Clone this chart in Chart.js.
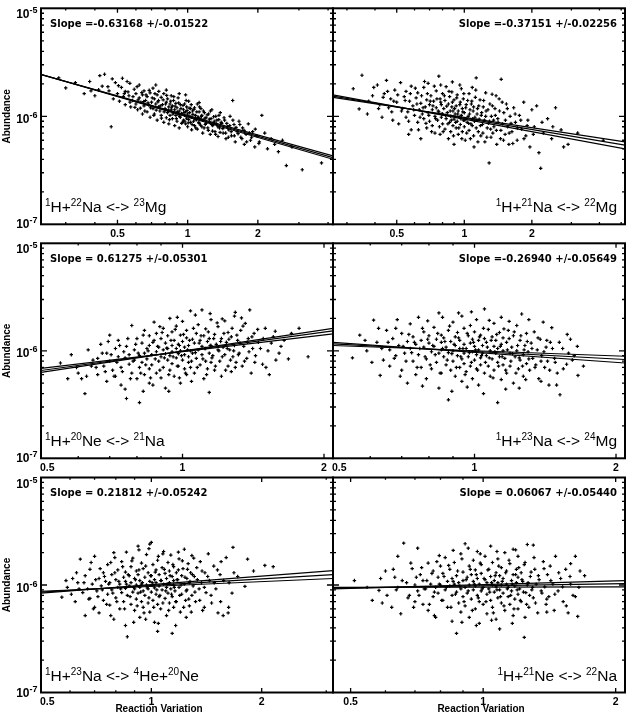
<!DOCTYPE html>
<html>
<head>
<meta charset="utf-8">
<script src="https://cdn.jsdelivr.net/npm/chart.js@4.4.0/dist/chart.umd.min.js"></script>
<style>
  body { margin: 0; background: #fff; }
  #wrap { position: relative; width: 636px; height: 714px; }
  #wrap canvas { position: absolute; left: 0; top: 0; }
</style>
</head>
<body>
<div id="wrap"></div>
<script>
// abundance values below are written in units of 1e-6
const UNIT = 1e-6;

const yRange = [1e-7, 1e-5];
const yMajorTicks = [1e-7, 1e-6, 1e-5];
const yTickLabels = ['10^{-7}', '10^{-6}', '10^{-5}'];
const yMinorTicks = [2e-7, 3e-7, 4e-7, 5e-7, 6e-7, 7e-7, 8e-7, 9e-7,
                     2e-6, 3e-6, 4e-6, 5e-6, 6e-6, 7e-6, 8e-6, 9e-6];
const xMajorTicks = [0.5, 1, 2];
const xTickLabels = ['0.5', '1', '2'];
const xMinorTicks = [0.2, 0.3, 0.4, 0.6, 0.7, 0.8, 0.9, 3, 4, 5];

const reactions = [
  '^{1}H+^{22}Na <-> ^{23}Mg',
  '^{1}H+^{21}Na <-> ^{22}Mg',
  '^{1}H+^{20}Ne <-> ^{21}Na',
  '^{1}H+^{23}Na <-> ^{24}Mg',
  '^{1}H+^{23}Na <-> ^{4}He+^{20}Ne',
  '^{1}H+^{21}Ne <-> ^{22}Na'
];
const slopeTexts = [
  'Slope =-0.63168 +/-0.01522',
  'Slope =-0.37151 +/-0.02256',
  'Slope = 0.61275 +/-0.05301',
  'Slope =-0.26940 +/-0.05649',
  'Slope = 0.21812 +/-0.05242',
  'Slope = 0.06067 +/-0.05440'
];
const xRanges = [[0.235, 4.2], [0.26, 5.2], [0.5, 2.09], [0.5, 2.09], [0.5, 3.13], [0.456, 2.1]];

// fit line + two error lines: abundance at the left and right ends of the x range
const fitNaMg23 = [[2.44, 0.415], [2.43, 0.43], [2.45, 0.40]];
const fitNaMg22 = [[1.54, 0.54], [1.50, 0.58], [1.58, 0.50]];
const fitNeNa21 = [[0.656, 1.53], [0.63, 1.62], [0.685, 1.44]];
const fitNaMg24 = [[1.16, 0.83], [1.12, 0.89], [1.20, 0.77]];
const fitNaNe20 = [[0.86, 1.25], [0.84, 1.36], [0.875, 1.15]];
const fitNeNa22 = [[0.937, 1.03], [0.92, 1.10], [0.95, 0.96]];

// Monte Carlo runs: [reaction variation, abundance]
const ptsNaMg23 = [
  [0.28,2.27],[0.30,1.83],[0.33,2.05],
  [0.36,1.62],[0.38,2.10],[0.40,1.55],[0.42,2.38],[0.43,1.90],[0.44,2.45],
  [0.46,1.72],[0.47,0.80],[0.48,1.45],[0.49,2.05],[0.50,1.62],[0.51,1.38],[0.52,1.85],[0.53,1.52],[0.54,1.28],[0.54,1.70],[0.55,2.10],
  [0.56,1.55],[0.57,1.22],[0.58,1.40],[0.59,1.78],[0.60,1.30],[0.60,1.62],[0.61,1.15],[0.62,1.48],[0.62,1.95],[0.63,1.35],[0.64,1.05],[0.64,1.58],[0.65,1.25],[0.65,1.72],
  [0.66,1.40],[0.67,1.10],[0.67,1.52],[0.68,1.28],[0.69,1.65],[0.69,0.98],[0.70,1.35],[0.71,1.18],[0.71,1.82],[0.72,1.45],[0.72,1.05],[0.73,1.30],[0.74,1.58],[0.74,0.92],[0.75,1.22],[0.75,1.40],
  [0.76,1.12],[0.77,1.50],[0.77,1.02],[0.78,1.28],[0.79,0.88],[0.79,1.62],[0.80,1.18],[0.81,1.35],[0.81,0.97],[0.82,1.08],[0.82,1.45],[0.83,1.22],[0.83,0.85],[0.84,1.30],[0.84,1.02],[0.85,1.55],[0.85,1.15],
  [0.86,0.95],[0.86,1.25],[0.87,1.08],[0.87,1.40],[0.88,0.82],[0.88,1.15],[0.89,1.02],[0.89,1.32],[0.90,0.90],[0.90,1.20],[0.91,1.05],[0.91,1.48],[0.92,0.78],[0.92,1.12],[0.93,0.98],[0.93,1.28],[0.94,1.06],[0.95,0.88],
  [0.96,1.15],[0.96,0.92],[0.97,1.30],[0.97,1.02],[0.98,0.85],[0.98,1.10],[0.99,0.96],[0.99,1.22],[1.00,1.05],[1.00,0.80],[1.01,1.38],[1.01,0.93],[1.02,1.08],[1.03,0.88],[1.03,1.18],[1.04,0.98],[1.04,0.75],[1.05,1.12],
  [1.06,0.90],[1.07,1.20],[1.07,0.82],[1.08,1.02],[1.09,0.93],[1.10,1.30],[1.10,0.76],[1.11,0.98],[1.12,1.10],[1.12,0.86],[1.13,0.95],[1.14,1.18],[1.15,0.80],[1.15,1.02],[1.16,0.70],[1.17,0.92],[1.18,1.08],[1.19,0.84],[1.20,0.97],
  [1.22,0.78],[1.23,1.05],[1.24,0.88],[1.25,0.68],[1.26,0.95],[1.27,1.15],[1.28,0.82],[1.30,0.90],[1.31,0.72],[1.32,1.00],[1.33,0.85],[1.35,0.65],[1.36,0.93],[1.37,0.78],[1.38,1.08],[1.40,0.86],
  [1.42,0.70],[1.44,0.92],[1.46,0.62],[1.48,0.80],[1.50,0.75],[1.52,1.00],[1.54,0.66],[1.56,1.40],[1.58,0.84],[1.60,0.58],[1.63,0.72],[1.66,0.90],[1.69,0.64],
  [1.72,0.78],[1.75,0.55],[1.78,0.68],[1.82,0.85],[1.86,0.60],[1.90,0.72],[1.94,0.52],[1.98,0.66],[2.03,0.58],[2.08,1.02],
  [2.14,0.70],[2.20,0.50],[2.28,0.62],[2.36,0.55],[2.45,0.47],[2.55,0.60],
  [2.65,0.35],[2.80,0.52],[3.10,0.32],[3.75,0.37],
  [0.555,1.68],[0.566,1.35],[0.583,1.52],[0.594,1.21],[0.607,1.88],[0.613,1.42],[0.627,1.19],[0.636,1.66],[0.648,1.37],[0.655,1.12],
  [0.663,1.58],[0.676,1.33],[0.684,1.74],[0.693,1.20],[0.705,1.48],[0.716,1.02],[0.724,1.62],[0.733,1.14],[0.745,1.36],[0.752,1.70],
  [0.763,1.25],[0.772,0.96],[0.785,1.42],[0.793,1.10],[0.804,1.30],[0.813,1.56],[0.826,1.14],[0.835,0.93],[0.846,1.38],[0.853,1.20],
  [0.864,1.05],[0.872,1.52],[0.883,1.24],[0.894,0.95],[0.903,1.10],[0.915,1.33],[0.924,1.00],[0.936,1.18],[0.943,0.86],[0.955,1.26],
  [0.964,1.08],[0.973,0.90],[0.985,1.40],[0.994,1.13],[1.006,0.87],[1.015,1.19],[1.024,0.99],[1.036,1.28],[1.045,0.84],[1.053,1.04],
  [1.064,1.16],[1.075,0.94],[1.083,0.78],[1.094,1.10],[1.105,0.98],[1.116,0.88],[1.124,1.22],[1.135,0.83],[1.146,1.00],[1.157,0.92],
  [1.168,1.12],[1.176,0.78],[1.187,0.96],[1.198,0.86],[1.213,1.03],[1.226,0.74],[1.238,0.94],[1.252,1.12],[1.265,0.84],[1.278,0.73],
  [1.292,0.99],[1.306,0.86],[1.318,0.68],[1.334,0.92],[1.347,0.80],[1.362,1.02],[1.377,0.71],[1.393,0.88],[1.415,0.77],[1.432,0.97],
  [1.455,0.70],[1.472,0.86],[1.494,0.64],[1.515,0.82],[1.537,0.72],[1.563,0.92],[1.585,0.66],[1.612,0.79],[1.645,0.69],[1.674,0.84],
  [1.708,0.62],[1.745,0.74],[1.79,0.58],[1.84,0.70],[1.88,0.64],[1.95,0.76],[2.02,0.56],[0.455,1.88],[0.475,2.22],[0.505,1.92],
  [0.525,2.25],[0.535,1.62],[0.565,2.02],[0.385,1.72],[0.415,1.76],[0.92,1.62],[0.98,1.58],[1.12,1.34],[0.73,1.95],[0.81,1.75]
];
const ptsNaMg22 = [
  [0.32,1.80],[0.34,1.17],[0.35,2.40],[0.37,1.05],[0.39,1.55],
  [0.41,1.95],[0.42,1.28],[0.43,0.98],[0.44,1.62],[0.45,2.15],[0.46,1.20],[0.47,1.45],[0.48,0.92],[0.49,1.75],
  [0.50,1.35],[0.51,0.85],[0.52,2.05],[0.53,1.18],[0.54,1.52],[0.55,0.98],[0.55,1.70],[0.56,1.10],[0.57,1.38],[0.58,0.75],[0.58,1.90],[0.59,1.25],[0.60,1.02],
  [0.61,1.48],[0.62,0.88],[0.62,1.65],[0.63,1.15],[0.64,1.32],[0.64,0.62],[0.65,1.05],[0.66,1.85],[0.66,0.95],[0.67,1.22],[0.68,0.78],[0.68,1.42],[0.69,1.08],[0.69,2.02],[0.70,0.90],[0.70,1.28],
  [0.71,1.55],[0.72,0.82],[0.72,1.15],[0.73,1.38],[0.74,0.70],[0.74,1.00],[0.75,1.72],[0.75,1.20],[0.76,0.92],[0.77,2.35],[0.77,1.10],[0.78,0.68],[0.78,1.45],[0.79,0.98],[0.79,1.28],[0.80,0.85],[0.80,1.62],[0.80,1.05],
  [0.81,1.18],[0.82,0.76],[0.82,1.40],[0.83,0.95],[0.83,1.88],[0.84,1.08],[0.85,0.62],[0.85,1.30],[0.86,0.88],[0.86,1.52],[0.87,1.00],[0.87,0.72],[0.88,1.22],[0.88,1.68],[0.89,0.82],[0.89,1.12],[0.90,0.94],[0.90,1.42],[0.90,0.55],
  [0.91,1.05],[0.92,0.78],[0.92,1.25],[0.93,0.90],[0.93,1.58],[0.94,0.68],[0.94,1.12],[0.95,0.98],[0.96,1.35],[0.96,0.84],[0.97,1.80],[0.97,1.02],[0.98,0.72],[0.98,1.18],[0.99,0.92],[0.99,1.45],[1.00,0.80],[1.00,1.08],
  [1.01,0.60],[1.02,1.28],[1.03,0.88],[1.04,1.00],[1.05,1.62],[1.05,0.74],[1.06,1.15],[1.07,0.85],[1.08,1.38],[1.09,0.95],[1.10,0.66],[1.10,1.22],[1.11,0.90],[1.12,1.50],[1.13,2.27],[1.13,0.78],[1.14,1.05],[1.15,0.58],
  [1.16,1.25],[1.18,0.82],[1.19,1.02],[1.21,0.70],[1.22,1.40],[1.23,0.92],[1.25,1.12],[1.26,0.64],[1.28,0.86],[1.29,0.37],[1.30,1.30],[1.31,0.76],[1.32,1.00],[1.33,1.60],[1.34,0.70],[1.35,0.92],
  [1.37,1.18],[1.39,0.74],[1.41,0.95],[1.43,1.45],[1.45,0.62],[1.46,2.20],[1.48,0.85],[1.50,1.08],[1.52,0.68],[1.54,1.30],[1.56,0.80],[1.58,0.55],[1.60,1.00],
  [1.63,0.72],[1.66,1.20],[1.69,0.88],[1.72,0.60],[1.76,1.02],[1.80,0.76],[1.84,1.35],[1.88,0.66],[1.92,0.92],[1.96,0.52],[2.00,1.15],
  [2.05,0.80],[2.10,1.25],[2.15,0.46],[2.19,0.33],[2.25,0.70],[2.35,0.95],[2.45,0.62],[2.55,1.20],
  [2.70,0.75],[2.77,0.52],[2.90,0.55],[3.20,0.70],[4.16,0.60],
  [0.505,1.58],[0.525,1.12],[0.545,1.40],[0.565,0.90],[0.575,1.62],[0.595,1.15],[0.605,1.82],[0.615,1.30],[0.635,0.98],[0.645,1.55],
  [0.655,1.20],[0.675,0.86],[0.685,1.62],[0.695,1.02],[0.705,1.38],[0.715,0.72],[0.725,1.25],[0.735,1.90],[0.745,0.95],[0.755,1.45],
  [0.765,1.12],[0.775,0.80],[0.785,1.35],[0.795,1.05],[0.805,0.72],[0.815,1.55],[0.825,1.02],[0.835,1.24],[0.845,0.85],[0.855,1.70],
  [0.865,1.12],[0.875,0.92],[0.885,1.35],[0.895,0.66],[0.905,1.18],[0.915,0.88],[0.925,1.48],[0.935,1.05],[0.945,0.78],[0.955,1.28],
  [0.965,0.95],[0.975,0.62],[0.985,1.10],[0.995,1.62],[1.005,0.92],[1.015,1.20],[1.025,0.70],[1.035,1.40],[1.045,0.86],[1.055,1.05],
  [1.065,0.62],[1.075,1.30],[1.085,0.82],[1.095,1.12],[1.105,0.52],[1.115,0.98],[1.125,1.75],[1.135,0.92],[1.145,1.18],[1.155,0.72],
  [1.165,0.94],[1.175,1.42],[1.185,0.66],[1.195,1.08],[1.205,0.84],[1.215,1.22],[1.235,0.58],[1.245,1.00],[1.265,0.78],[1.275,1.15],
  [1.295,0.90],[1.315,0.64],[1.335,1.25],[1.355,0.80],[1.375,1.02],[1.395,0.55],[1.415,0.88],[1.435,1.12],[1.455,0.74],[1.475,1.35],
  [1.495,0.60],[1.525,0.92],[1.555,1.18],[1.585,0.70],[1.615,0.86],[1.645,0.56],[1.685,1.05],[1.725,0.78],[1.785,0.92],[1.845,0.62],
  [0.455,1.70],[0.475,1.10],[0.485,1.38],[0.435,1.50],[0.415,1.18],[0.395,1.85],[0.375,1.38],[0.665,2.10],[0.785,1.95],[0.885,2.08],
  [0.955,1.95],[1.085,1.85],[1.245,1.65],[1.385,1.55],[1.905,0.82],[2.03,0.68],[2.22,0.88],[2.48,0.80],[0.625,0.75],[0.565,0.68]
];
const ptsNeNa21 = [
  [0.55,0.77],[0.57,0.55],[0.58,0.92],[0.60,0.62],[0.61,0.55],[0.62,0.40],[0.63,1.02],[0.64,0.72],
  [0.66,0.85],[0.66,0.60],[0.67,1.15],[0.68,0.72],[0.69,0.95],[0.69,0.52],[0.70,1.40],[0.70,0.80],[0.71,0.66],[0.72,1.05],[0.72,0.58],[0.73,0.88],[0.73,1.25],[0.74,0.70],[0.74,0.48],[0.75,0.98],
  [0.76,0.36],[0.76,1.10],[0.77,0.75],[0.77,0.92],[0.78,1.72],[0.78,0.62],[0.79,1.02],[0.79,0.82],[0.80,0.55],[0.80,1.30],[0.81,0.33],[0.81,0.90],[0.81,0.70],[0.82,1.18],[0.82,0.78],[0.83,1.55],[0.83,0.95],[0.83,0.60],[0.84,1.05],[0.84,0.84],[0.85,1.38],[0.85,0.68],[0.85,0.50],[0.85,1.12],
  [0.86,0.92],[0.86,0.74],[0.87,1.25],[0.87,1.85],[0.88,0.62],[0.88,0.98],[0.88,1.45],[0.89,0.80],[0.89,1.08],[0.90,0.56],[0.90,1.30],[0.90,0.88],[0.91,1.02],[0.91,0.70],[0.91,1.62],[0.92,0.94],[0.92,0.45],[0.92,1.18],[0.93,0.82],[0.93,1.38],[0.93,1.05],[0.94,0.66],[0.94,0.90],[0.94,2.00],[0.95,1.12],[0.95,0.76],[0.95,1.50],[0.95,0.98],
  [0.96,0.58],[0.96,1.25],[0.97,0.86],[0.97,1.05],[0.97,1.70],[0.98,0.72],[0.98,1.15],[0.98,0.94],[0.99,1.40],[0.99,0.50],[0.99,1.00],[1.00,0.82],[1.00,1.22],[1.00,1.88],[1.01,0.68],[1.01,1.08],[1.01,0.92],[1.02,1.32],[1.02,0.60],[1.02,1.55],[1.03,0.88],[1.03,1.12],[1.03,0.78],[1.04,2.35],[1.04,1.00],[1.04,0.70],[1.05,1.28],[1.05,0.95],
  [1.06,0.62],[1.06,1.18],[1.07,1.45],[1.07,0.85],[1.08,1.02],[1.08,1.75],[1.09,0.74],[1.09,1.25],[1.10,2.40],[1.10,0.92],[1.10,1.10],[1.11,0.55],[1.11,1.38],[1.12,0.80],[1.12,1.05],[1.12,1.60],[1.13,0.68],[1.13,1.22],[1.14,0.41],[1.14,0.95],[1.14,1.30],[1.15,1.12],[1.15,0.78],[1.15,1.95],
  [1.16,0.90],[1.17,1.42],[1.17,0.66],[1.18,1.15],[1.19,1.02],[1.19,1.68],[1.20,0.80],[1.21,1.30],[1.21,0.58],[1.22,1.08],[1.23,1.90],[1.23,0.92],[1.24,1.20],[1.25,0.72],[1.25,1.48],[1.26,1.02],[1.27,0.64],[1.27,1.35],[1.28,0.88],[1.29,1.12],[1.29,2.10],[1.30,0.78],
  [1.31,1.25],[1.32,0.95],[1.33,1.55],[1.34,0.72],[1.35,1.10],[1.36,1.80],[1.37,0.85],[1.38,1.30],[1.39,2.40],[1.40,0.62],[1.41,1.05],[1.42,1.45],[1.43,0.90],[1.45,1.20],
  [1.48,0.75],[1.50,1.62],[1.52,1.00],[1.53,0.60],[1.56,1.35],[1.58,0.82],[1.62,1.10],[1.68,0.84],
  [0.705,0.92],[0.715,0.58],[0.725,0.78],[0.735,1.12],[0.745,0.64],[0.755,0.86],[0.765,1.30],[0.775,0.55],[0.785,0.80],[0.795,1.15],
  [0.805,0.95],[0.815,0.62],[0.825,1.40],[0.835,0.74],[0.845,1.00],[0.855,0.56],[0.865,1.20],[0.875,0.84],[0.885,1.10],[0.895,0.66],
  [0.905,1.48],[0.915,0.86],[0.925,1.06],[0.935,0.60],[0.945,1.25],[0.955,0.88],[0.965,1.58],[0.975,0.72],[0.985,1.12],[0.995,0.90],
  [1.005,1.42],[1.015,0.62],[1.025,1.02],[1.035,1.25],[1.045,0.80],[1.055,1.62],[1.065,0.96],[1.075,0.70],[1.085,1.18],[1.095,1.38],
  [1.105,0.84],[1.115,1.05],[1.125,0.60],[1.135,1.50],[1.145,1.12],[1.155,0.86],[1.165,1.30],[1.175,0.72],[1.185,1.82],[1.195,1.00],
  [1.205,1.22],[1.215,0.88],[1.225,1.45],[1.235,0.66],[1.245,1.05],[1.255,1.28],[1.265,0.82],[1.275,1.62],[1.285,1.00],[1.295,0.70],
  [1.305,1.40],[1.315,0.92],[1.325,1.18],[1.345,1.70],[1.355,0.80],[1.375,1.20],[1.385,0.98],[1.405,1.35],[1.425,0.78],[1.445,1.58],
  [1.465,1.05],[1.485,1.30],[1.505,0.70],[1.545,1.18],[1.575,1.52],[1.605,0.95],[1.645,1.25],[1.705,1.45],[1.77,1.62],[1.85,0.88],
  [0.655,0.70],[0.675,0.95],[0.685,0.64],[0.695,1.22],[0.625,0.58],[0.645,0.82],[0.595,0.70],[0.865,0.48],[0.935,0.42],[0.985,0.56],
  [1.045,0.52],[0.895,1.68],[0.975,2.05],[1.065,2.15],[1.145,2.22],[1.215,1.98],[1.295,2.28],[1.335,2.02],[0.825,0.42],[0.755,0.44]
];
const ptsNaMg24 = [
  [0.55,0.86],[0.57,1.40],[0.59,1.00],[0.61,1.93],[0.62,1.20],[0.63,0.59],[0.64,0.82],[0.65,1.55],
  [0.66,1.02],[0.66,0.72],[0.67,1.30],[0.68,0.90],[0.68,1.62],[0.69,1.12],[0.70,0.66],[0.70,1.45],[0.71,0.95],[0.72,1.22],[0.72,0.50],[0.73,1.05],[0.73,1.78],[0.74,0.80],[0.74,1.35],[0.75,0.60],[0.75,1.15],
  [0.76,0.92],[0.76,2.05],[0.77,1.25],[0.77,0.70],[0.78,1.08],[0.78,1.50],[0.79,0.84],[0.79,0.55],[0.80,1.18],[0.80,1.38],[0.81,0.98],[0.81,0.68],[0.82,1.65],[0.82,1.10],[0.83,0.78],[0.83,1.28],[0.84,0.45],[0.84,0.95],[0.84,2.25],[0.85,1.40],[0.85,1.02],[0.85,0.62],[0.85,1.20],
  [0.86,0.88],[0.86,1.32],[0.87,0.74],[0.87,1.08],[0.88,0.35],[0.88,1.55],[0.88,0.96],[0.89,1.22],[0.89,0.66],[0.90,1.85],[0.90,1.00],[0.90,0.80],[0.91,1.35],[0.91,0.58],[0.91,1.12],[0.92,0.90],[0.92,1.48],[0.93,0.70],[0.93,1.05],[0.93,1.25],[0.94,0.84],[0.94,2.10],[0.94,0.52],[0.95,1.15],[0.95,0.95],[0.95,1.62],[0.95,0.76],
  [0.96,1.05],[0.96,0.64],[0.97,1.38],[0.97,0.88],[0.98,1.18],[0.98,0.72],[0.98,1.72],[0.99,0.98],[0.99,0.55],[0.99,1.28],[1.00,0.82],[1.00,1.10],[1.00,1.50],[1.01,0.92],[1.01,0.68],[1.01,1.95],[1.02,1.02],[1.02,1.25],[1.02,0.48],[1.03,0.86],[1.03,1.40],[1.03,0.74],[1.04,1.12],[1.04,0.95],[1.05,2.45],[1.05,0.62],[1.05,1.30],
  [1.06,0.90],[1.06,1.20],[1.07,0.72],[1.07,1.58],[1.08,1.00],[1.08,0.58],[1.09,1.35],[1.09,0.84],[1.10,1.10],[1.10,0.66],[1.10,1.80],[1.11,0.95],[1.11,1.25],[1.12,0.33],[1.12,0.78],[1.12,1.05],[1.13,1.48],[1.13,0.88],[1.14,0.54],[1.14,1.15],[1.14,2.05],[1.15,0.74],[1.15,1.00],[1.15,1.32],
  [1.16,0.85],[1.17,1.20],[1.17,0.62],[1.18,1.55],[1.19,0.95],[1.19,0.72],[1.20,1.08],[1.21,1.38],[1.21,0.50],[1.22,0.88],[1.23,1.72],[1.23,1.00],[1.24,0.68],[1.25,1.25],[1.25,0.82],[1.26,2.20],[1.27,0.92],[1.27,0.58],[1.28,1.12],[1.29,0.76],[1.29,1.45],[1.30,0.98],
  [1.31,0.66],[1.32,1.18],[1.33,0.85],[1.34,1.50],[1.35,0.74],[1.36,1.02],[1.37,0.55],[1.38,1.28],[1.39,0.90],[1.40,1.85],[1.41,0.70],[1.42,1.08],[1.43,0.80],[1.44,0.48],[1.45,1.20],
  [1.46,1.64],[1.48,0.85],[1.50,0.62],[1.52,0.39],[1.54,1.05],[1.57,0.75],[1.60,1.28],[1.63,0.90],[1.66,0.59],
  [0.705,1.10],[0.715,0.80],[0.725,1.42],[0.735,0.96],[0.745,1.20],[0.755,0.70],[0.765,1.05],[0.775,1.62],[0.785,0.88],[0.795,1.28],
  [0.805,0.74],[0.815,1.12],[0.825,0.92],[0.835,1.45],[0.845,0.62],[0.855,1.05],[0.865,1.22],[0.875,0.82],[0.885,1.70],[0.895,0.94],
  [0.905,1.15],[0.915,0.70],[0.925,1.32],[0.935,0.88],[0.945,1.05],[0.955,0.60],[0.965,1.45],[0.975,0.96],[0.985,0.78],[0.995,1.20],
  [1.005,1.02],[1.015,0.66],[1.025,1.35],[1.035,0.90],[1.045,1.62],[1.055,0.78],[1.065,1.08],[1.075,0.86],[1.085,1.25],[1.095,0.56],
  [1.105,0.98],[1.115,1.42],[1.125,0.72],[1.135,1.10],[1.145,0.88],[1.155,1.60],[1.165,0.66],[1.175,1.02],[1.185,1.30],[1.195,0.80],
  [1.205,0.94],[1.215,1.50],[1.225,0.62],[1.235,1.12],[1.245,0.86],[1.255,1.38],[1.265,0.72],[1.275,1.02],[1.285,0.54],[1.295,1.22],
  [1.305,0.84],[1.325,1.05],[1.345,0.70],[1.365,1.32],[1.385,0.80],[1.405,0.98],[1.425,1.25],[1.445,0.66],[1.465,1.05],[1.485,0.78],
  [1.515,1.20],[1.545,0.68],[1.575,1.42],[1.615,0.82],[1.655,1.10],[0.655,1.20],[0.675,0.85],[0.685,1.95],[0.695,0.58],[0.635,1.05],
  [0.605,0.78],[0.585,1.25],[0.625,1.62],[0.855,2.05],[0.925,2.25],[0.985,2.30],[1.075,1.92],[1.185,1.88],[1.305,1.95],[0.795,1.90],
  [0.895,0.42],[0.965,0.46],[1.045,0.40],[1.165,0.44],[1.245,0.45],[0.775,0.47],[1.385,0.52],[1.495,0.48],[1.585,0.95],[1.705,0.72]
];
const ptsNaNe20 = [
  [0.57,0.77],[0.59,0.95],[0.61,1.15],[0.62,0.70],[0.63,1.05],[0.64,1.74],[0.65,0.85],
  [0.66,0.52],[0.66,1.22],[0.67,0.92],[0.68,0.75],[0.68,1.40],[0.69,1.02],[0.70,0.62],[0.70,1.85],[0.71,0.88],[0.72,1.15],[0.72,0.55],[0.73,0.98],[0.74,1.30],[0.74,0.72],[0.75,1.08],
  [0.76,0.82],[0.76,1.55],[0.77,0.65],[0.77,1.05],[0.78,0.90],[0.78,1.25],[0.79,0.48],[0.79,2.00],[0.80,1.12],[0.80,0.76],[0.81,0.95],[0.81,1.38],[0.82,0.60],[0.82,1.02],[0.83,0.85],[0.83,1.65],[0.84,1.18],[0.84,0.70],[0.85,0.93],[0.85,1.32],[0.85,0.42],[0.85,1.08],
  [0.86,0.33],[0.86,0.80],[0.87,1.22],[0.87,0.98],[0.88,0.66],[0.88,1.48],[0.88,1.05],[0.89,0.86],[0.89,1.78],[0.90,0.58],[0.90,1.15],[0.90,0.92],[0.91,1.35],[0.91,0.74],[0.91,1.00],[0.92,2.30],[0.92,0.84],[0.92,1.25],[0.93,0.50],[0.93,1.10],[0.93,0.95],[0.94,1.60],[0.94,0.70],[0.94,1.02],[0.95,0.88],[0.95,1.42],[0.95,0.62],
  [0.96,1.18],[0.96,0.80],[0.97,1.00],[0.97,1.92],[0.98,0.68],[0.98,1.30],[0.98,0.92],[0.99,2.40],[0.99,1.08],[0.99,0.56],[1.00,2.49],[1.00,0.86],[1.00,1.22],[1.01,1.00],[1.01,0.72],[1.01,1.55],[1.02,0.94],[1.02,1.12],[1.02,0.45],[1.03,1.38],[1.03,0.82],[1.03,1.05],[1.04,0.37],[1.04,0.66],[1.04,1.70],[1.05,0.98],[1.05,1.25],[1.05,0.78],
  [1.06,1.10],[1.06,0.60],[1.07,1.45],[1.07,0.90],[1.08,1.02],[1.08,2.05],[1.09,0.75],[1.09,1.28],[1.10,0.95],[1.10,0.52],[1.10,1.15],[1.11,1.62],[1.11,0.84],[1.12,1.05],[1.12,0.68],[1.12,1.35],[1.13,1.90],[1.13,0.92],[1.14,0.355],[1.14,1.20],[1.14,0.78],[1.15,1.00],[1.15,1.48],[1.15,0.62],[1.15,1.10],
  [1.16,0.88],[1.17,1.30],[1.17,0.70],[1.18,1.12],[1.19,1.75],[1.19,0.95],[1.20,0.56],[1.21,1.22],[1.21,0.82],[1.22,1.42],[1.23,1.02],[1.23,2.15],[1.24,0.72],[1.25,1.15],[1.25,0.90],[1.26,1.58],[1.27,0.64],[1.27,1.05],[1.28,1.30],[1.29,0.80],[1.29,1.88],[1.30,0.98],
  [1.31,1.20],[1.32,0.70],[1.33,1.45],[1.35,0.92],[1.36,1.65],[1.37,1.05],[1.38,0.58],[1.40,1.30],[1.41,0.85],[1.43,1.95],[1.44,1.10],[1.46,0.68],[1.48,1.50],[1.50,0.92],
  [1.52,0.55],[1.54,1.25],[1.57,0.52],[1.60,1.80],[1.63,1.05],[1.66,0.84],[1.67,2.24],[1.80,0.97],[1.83,1.74],[2.04,1.52],
  [0.705,1.12],[0.715,0.78],[0.725,1.42],[0.735,0.90],[0.745,1.20],[0.755,0.66],[0.765,1.02],[0.775,1.62],[0.785,0.84],[0.795,1.30],
  [0.805,0.70],[0.815,1.08],[0.825,0.92],[0.835,1.48],[0.845,0.60],[0.855,1.02],[0.865,1.25],[0.875,0.78],[0.885,1.68],[0.895,0.95],
  [0.905,1.12],[0.915,0.64],[0.925,1.38],[0.935,0.86],[0.945,1.05],[0.955,0.55],[0.965,1.50],[0.975,0.94],[0.985,0.76],[0.995,1.22],
  [1.005,1.05],[1.015,0.62],[1.025,1.32],[1.035,0.90],[1.045,1.85],[1.055,0.80],[1.065,1.10],[1.075,0.68],[1.085,1.40],[1.095,0.88],
  [1.105,1.02],[1.115,0.58],[1.125,1.22],[1.135,0.82],[1.145,1.55],[1.155,0.95],[1.165,0.70],[1.175,1.12],[1.185,1.38],[1.195,0.80],
  [1.205,1.00],[1.215,1.68],[1.225,0.62],[1.235,1.18],[1.245,0.88],[1.255,1.40],[1.265,0.74],[1.275,1.08],[1.285,0.56],[1.295,1.25],
  [1.315,0.86],[1.335,1.12],[1.355,0.72],[1.375,1.35],[1.395,0.95],[1.425,1.20],[1.455,0.80],[1.485,1.05],[1.515,1.38],[1.545,0.70],
  [1.575,1.10],[1.625,0.62],[1.68,1.30],[0.655,1.05],[0.675,0.74],[0.685,1.62],[0.695,0.60],[0.635,0.92],[0.605,0.82],[0.585,1.10],
  [0.625,1.30],[0.855,2.02],[0.925,2.12],[0.985,2.18],[1.075,1.95],[1.185,2.02],[1.305,1.78],[0.795,1.80],[0.895,0.45],[0.965,0.48],
  [1.045,0.44],[1.165,0.42],[1.245,0.50],[0.775,0.52],[1.395,0.62],[1.55,1.65],[1.72,1.20],[1.90,1.35],[2.15,1.48],[1.62,0.55]
];
const ptsNeNa22 = [
  [0.51,1.10],[0.56,0.72],[0.58,0.89],[0.60,1.35],
  [0.62,0.62],[0.63,1.18],[0.64,0.95],[0.65,0.54],[0.66,2.45],[0.67,1.05],[0.68,0.80],[0.69,1.42],[0.70,0.70],[0.70,1.00],
  [0.71,2.20],[0.71,0.88],[0.72,1.25],[0.73,0.66],[0.73,1.10],[0.74,0.92],[0.75,1.60],[0.75,0.58],[0.76,1.02],[0.77,0.78],[0.77,1.35],[0.78,0.95],[0.78,0.50],[0.79,1.18],[0.79,0.84],[0.80,1.50],[0.80,1.00],
  [0.81,0.72],[0.81,1.28],[0.82,0.90],[0.82,1.80],[0.83,1.08],[0.83,0.62],[0.84,0.98],[0.84,1.40],[0.85,0.80],[0.85,1.15],[0.85,0.46],[0.86,1.02],[0.86,1.62],[0.87,0.355],[0.87,0.86],[0.87,1.22],[0.88,0.68],[0.88,1.05],[0.89,1.95],[0.89,0.92],[0.89,0.56],[0.90,1.32],[0.90,0.78],[0.90,1.10],
  [0.91,2.42],[0.91,0.95],[0.91,0.64],[0.92,1.18],[0.92,0.84],[0.93,1.50],[0.93,1.00],[0.93,0.50],[0.94,0.74],[0.94,1.25],[0.95,0.90],[0.95,1.70],[0.95,1.08],[0.96,0.60],[0.96,0.98],[0.96,1.38],[0.97,0.80],[0.97,1.15],[0.97,2.05],[0.98,0.70],[0.98,1.02],[0.98,0.44],[0.99,1.28],[0.99,0.88],[0.99,1.55],[1.00,0.95],[1.00,0.66],
  [1.01,1.12],[1.01,1.85],[1.02,0.82],[1.02,1.05],[1.02,0.54],[1.03,1.40],[1.03,0.92],[1.04,0.72],[1.04,1.20],[1.04,2.30],[1.05,1.00],[1.05,0.62],[1.05,1.62],[1.06,0.86],[1.06,1.10],[1.07,0.48],[1.07,1.30],[1.07,0.96],[1.08,0.76],[1.08,1.75],[1.08,1.05],[1.09,0.39],[1.09,0.90],[1.09,1.22],[1.10,0.68],[1.10,1.45],[1.10,1.00],
  [1.11,0.84],[1.11,1.15],[1.12,2.00],[1.12,0.58],[1.13,1.02],[1.13,1.35],[1.14,0.78],[1.14,0.95],[1.15,1.58],[1.15,0.66],[1.16,1.10],[1.16,0.88],[1.17,2.15],[1.17,1.25],[1.17,0.52],[1.18,0.98],[1.18,0.74],[1.19,1.40],[1.19,1.05],[1.20,0.82],[1.20,1.85],[1.20,0.60],[1.20,1.18],
  [1.21,0.92],[1.22,1.30],[1.22,0.70],[1.23,1.08],[1.24,0.326],[1.24,1.55],[1.25,0.85],[1.26,1.00],[1.26,2.38],[1.27,0.62],[1.28,1.20],[1.29,0.90],[1.30,2.35],[1.30,0.76],[1.31,1.40],[1.32,1.02],[1.33,0.55],[1.34,1.12],
  [1.36,0.84],[1.37,1.65],[1.38,0.96],[1.39,0.66],[1.40,1.25],[1.41,0.78],[1.42,1.50],[1.44,1.02],[1.45,0.58],[1.46,1.85],[1.48,0.88],[1.50,1.15],
  [1.52,0.70],[1.54,1.40],[1.56,0.55],[1.58,1.02],[1.60,0.80],[1.62,1.85],[1.64,0.51],[1.66,1.35],
  [0.705,1.18],[0.715,0.80],[0.725,1.45],[0.735,0.92],[0.745,1.10],[0.755,0.66],[0.765,1.28],[0.775,0.86],[0.785,1.65],[0.795,1.02],
  [0.805,0.72],[0.815,1.20],[0.825,0.95],[0.835,1.52],[0.845,0.62],[0.855,1.08],[0.865,0.82],[0.875,1.35],[0.885,0.98],[0.895,1.75],
  [0.905,0.70],[0.915,1.12],[0.925,0.88],[0.935,1.40],[0.945,0.58],[0.955,1.02],[0.965,1.25],[0.975,0.76],[0.985,1.60],[0.995,0.92],
  [1.005,1.15],[1.015,0.70],[1.025,1.38],[1.035,0.86],[1.045,1.05],[1.055,0.55],[1.065,1.22],[1.075,0.90],[1.085,1.50],[1.095,0.78],
  [1.105,1.08],[1.115,0.64],[1.125,1.30],[1.135,0.92],[1.145,1.70],[1.155,0.80],[1.165,1.02],[1.175,0.60],[1.185,1.25],[1.195,0.90],
  [1.205,1.45],[1.215,0.72],[1.225,1.12],[1.235,0.86],[1.245,1.62],[1.255,0.66],[1.265,1.05],[1.275,0.80],[1.285,1.32],[1.295,0.95],
  [1.315,0.68],[1.335,1.22],[1.355,0.88],[1.375,1.42],[1.395,0.74],[1.425,1.10],[1.455,0.82],[1.485,1.30],[1.515,0.96],[1.545,0.64],
  [1.575,1.20],[1.62,0.78],[0.655,1.10],[0.675,0.76],[0.685,1.60],[0.695,0.62],[0.635,0.90],[0.605,0.80],[0.585,1.15],[0.625,1.40],
  [0.855,2.10],[0.925,2.20],[0.985,1.95],[1.075,2.05],[1.185,2.12],[1.305,1.80],[0.795,1.88],[0.895,0.45],[0.965,0.42],[1.045,0.47],
  [1.165,0.44],[1.245,0.50],[0.775,0.52],[1.395,0.56],[1.58,1.58],[1.65,0.95],[1.70,1.22],[0.545,0.95],[0.59,0.68],[0.64,1.85]
];

const points = [ptsNaMg23, ptsNaMg22, ptsNeNa21, ptsNaMg24, ptsNaNe20, ptsNeNa22];
const fits = [fitNaMg23, fitNaMg22, fitNeNa21, fitNaMg24, fitNaNe20, fitNeNa22];

// page layout of the six plot boxes
const W = 636, H = 714;
const colEdges = [[41, 333], [333, 625]];
const rowEdges = [[8.3, 224.3], [243.3, 458.3], [477.5, 692.5]];
const xTitleCenters = [159, 481];

function richParts(str) {
  const parts = [];
  const re = /\^\{([^}]*)\}|([^^]+)/g;
  let m;
  while ((m = re.exec(str))) parts.push(m[1] !== undefined ? { t: m[1], sup: true } : { t: m[2], sup: false });
  return parts;
}

function drawRich(ctx, str, x, y, size, supSize, rise, align, font) {
  const parts = richParts(str);
  const f = p => font.replace('SIZE', (p.sup ? supSize : size) + 'px');
  let w = 0;
  parts.forEach(p => { ctx.font = f(p); w += ctx.measureText(p.t).width; });
  let cx = align === 'right' ? x - w : align === 'center' ? x - w / 2 : x;
  ctx.textAlign = 'left';
  ctx.textBaseline = 'alphabetic';
  parts.forEach(p => {
    ctx.font = f(p);
    ctx.fillText(p.t, cx, p.sup ? y - rise : y);
    cx += ctx.measureText(p.t).width;
  });
}

const panelDecor = {
  id: 'panelDecor',
  afterDatasetsDraw(chart, args, o) {
    const ctx = chart.ctx;
    const { left, right, top, bottom } = chart.chartArea;
    const xs = chart.scales.x, ys = chart.scales.y;
    ctx.save();
    ctx.fillStyle = '#000';
    ctx.strokeStyle = '#000';

    // inward ticks on all four sides
    ctx.lineWidth = 1.3;
    ctx.beginPath();
    const tickX = (v, len) => {
      const px = xs.getPixelForValue(v);
      if (px < left + 1 || px > right - 1) return;
      ctx.moveTo(px, bottom); ctx.lineTo(px, bottom - len);
      ctx.moveTo(px, top); ctx.lineTo(px, top + len);
    };
    const tickY = (v, len) => {
      const py = ys.getPixelForValue(v);
      if (py < top + 1 || py > bottom - 1) return;
      ctx.moveTo(left, py); ctx.lineTo(left + len, py);
      ctx.moveTo(right, py); ctx.lineTo(right - len, py);
    };
    xMajorTicks.forEach(v => tickX(v, 4.5));
    xMinorTicks.forEach(v => tickX(v, 2.3));
    yMajorTicks.forEach(v => tickY(v, 6));
    yMinorTicks.forEach(v => tickY(v, 3));
    ctx.stroke();

    // frame
    ctx.lineWidth = 2;
    ctx.strokeRect(left, top, right - left, bottom - top);

    // x tick labels
    ctx.font = 'bold 10.5px "Liberation Sans", Arial, sans-serif';
    ctx.textBaseline = 'alphabetic';
    xMajorTicks.forEach((v, i) => {
      if (v < xs.min || v > xs.max) return;
      const px = xs.getPixelForValue(v);
      const w = ctx.measureText(xTickLabels[i]).width;
      const lx = Math.max(px - w / 2, left - 1);
      ctx.textAlign = 'left';
      ctx.fillText(xTickLabels[i], lx, bottom + 12.5);
    });

    // y tick labels and title (left column only)
    if (o.col === 0) {
      const offs = [4, 6.5, 10];
      yMajorTicks.forEach((v, i) => {
        const py = ys.getPixelForValue(v);
        drawRich(ctx, yTickLabels[i], left - 3.5, py + offs[i], 12, 9, 5, 'right',
          'bold SIZE "Liberation Sans", Arial, sans-serif');
      });
      ctx.save();
      ctx.font = 'bold 10px "Liberation Sans", Arial, sans-serif';
      ctx.textAlign = 'center';
      ctx.translate(9.5, (top + bottom) / 2);
      ctx.rotate(-Math.PI / 2);
      ctx.fillText('Abundance', 0, 0);
      ctx.restore();
    }

    // x axis title (bottom row only)
    if (o.row === 2) {
      ctx.font = 'bold 10px "Liberation Sans", Arial, sans-serif';
      ctx.textAlign = 'center';
      ctx.fillText('Reaction Variation', xTitleCenters[o.col], 712);
    }

    // slope and reaction annotations
    const alignR = o.col === 1;
    ctx.font = 'bold 10px "DejaVu Sans", sans-serif';
    ctx.textAlign = alignR ? 'right' : 'left';
    ctx.fillText(o.slope, alignR ? right - 8 : left + 9, top + 18.5);
    drawRich(ctx, o.reaction, alignR ? right - 8 : left + 4, bottom - 12, 15.5, 10, 6,
      alignR ? 'right' : 'left', 'SIZE "Liberation Sans", Arial, sans-serif');
    ctx.restore();
  }
};

const wrap = document.getElementById('wrap');
points.forEach((pts, i) => {
  const col = i % 2, row = Math.floor(i / 2);
  const [x0, x1] = colEdges[col];
  const [y0, y1] = rowEdges[row];
  const xr = xRanges[i];
  const canvas = document.createElement('canvas');
  canvas.width = W; canvas.height = H;
  canvas.style.width = W + 'px'; canvas.style.height = H + 'px';
  wrap.appendChild(canvas);

  const lineSets = fits[i].map(f => ({
    type: 'line',
    data: [{ x: xr[0], y: f[0] * UNIT }, { x: xr[1], y: f[1] * UNIT }],
    borderColor: '#000',
    borderWidth: 1.2,
    pointRadius: 0,
    fill: false
  }));

  new Chart(canvas, {
    type: 'scatter',
    data: {
      datasets: [
        {
          data: pts.map(p => ({ x: p[0], y: p[1] * UNIT })),
          pointStyle: 'cross',
          pointRadius: 1.7,
          borderWidth: 1.2,
          borderColor: '#000',
          backgroundColor: '#000'
        },
        ...lineSets
      ]
    },
    options: {
      responsive: false,
      animation: false,
      events: [],
      layout: { padding: { left: x0, right: W - x1, top: y0, bottom: H - y1 } },
      plugins: {
        legend: { display: false },
        tooltip: { enabled: false },
        panelDecor: { col: col, row: row, slope: slopeTexts[i], reaction: reactions[i] }
      },
      scales: {
        x: { type: 'logarithmic', min: xr[0], max: xr[1], display: false },
        y: { type: 'logarithmic', min: yRange[0], max: yRange[1], display: false }
      }
    },
    plugins: [panelDecor]
  });
});
</script>
</body>
</html>
